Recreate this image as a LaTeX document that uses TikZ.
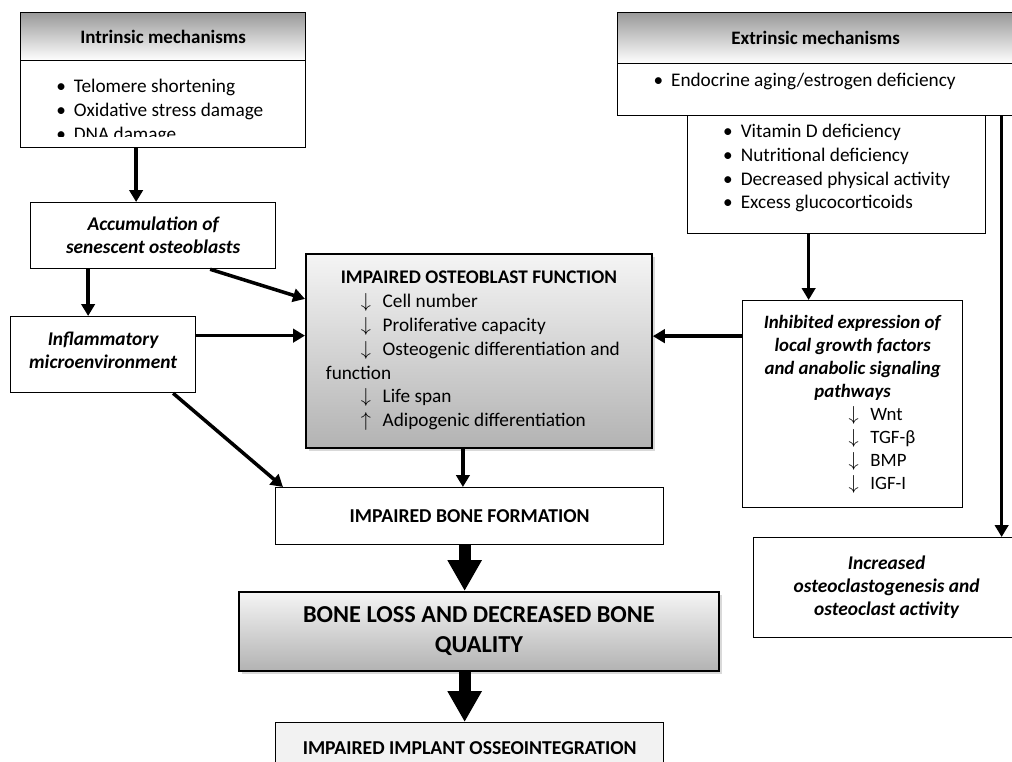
\documentclass[tikz,border=0pt]{standalone}
\usepackage{fontspec}
\setmainfont{Carlito}
\usetikzlibrary{arrows.meta,positioning,shadows}
\newcommand{\pix}{0.025cm}
\newcommand{\blt}{\makebox[12.5pt][l]{\textbullet}}
\newcommand{\dn}{\makebox[15.5pt][l]{$\downarrow$}}
\newcommand{\upp}{\makebox[15.5pt][l]{$\uparrow$}}
\tikzset{
  cell/.style={draw,line width=0.9pt,inner sep=0pt,anchor=north west,fill=white},
  head/.style={cell,top color=black!40,bottom color=white,font=\fontsize{13.5}{16}\selectfont\bfseries},
  txt/.style={font=\fontsize{13.7}{16.9}\selectfont},
  emph/.style={font=\fontsize{13.8}{16.4}\selectfont\bfseries\itshape,align=center},
  caps/.style={font=\fontsize{14}{16}\selectfont\bfseries,align=center},
  shade/.style={cell,line width=1.3pt,top color=black!4,bottom color=black!30,
    drop shadow={shadow xshift=2.5pt,shadow yshift=-2.5pt,opacity=0.3}},
  arr/.style={line width=2.5pt,-{Triangle[length=8.5pt,width=9.5pt]}},
  fat/.style={line width=8.5pt,-{Triangle[length=22pt,width=23pt]}},
}

\begin{document}
\begin{tikzpicture}[x=\pix,y=-\pix]
  \useasboundingbox (0,0) rectangle (1012,762);
  \clip (0,0) rectangle (1012,762);
  % intrinsic side
  \node[head,minimum width=285*\pix,minimum height=48*\pix] (intr) at (20,12) {Intrinsic mechanisms};
  \node[cell,minimum width=285*\pix,minimum height=87*\pix] (intb) at (20,60) {};
  \begin{scope}
    \clip (20,60) rectangle (305,136);
    \node[txt,anchor=north west,align=left,inner sep=0pt] (intl) at (56,79)
      {\blt Telomere shortening\\ \blt Oxidative stress damage\\ \blt DNA damage};
  \end{scope}
  \node[cell,emph,minimum width=245*\pix,minimum height=66*\pix] (acc) at (30,202)
    {Accumulation of\\ senescent osteoblasts};
  \node[cell,emph,text depth=6.5pt,minimum width=185*\pix,minimum height=76*\pix] (infl) at (10,316)
    {Inflammatory\\ microenvironment};
  % extrinsic side
  \node[head,minimum width=396*\pix,minimum height=51*\pix] (extr) at (617,12) {Extrinsic mechanisms};
  \node[cell,txt,text depth=14pt,minimum width=396*\pix,minimum height=52*\pix] (extb) at (617,63)
    {\blt Endocrine aging/estrogen deficiency\hspace*{0.55cm}};
  \node[cell,txt,align=left,text depth=11.5pt,minimum width=298*\pix,minimum height=118*\pix] (vitd) at (687,115)
    {\blt Vitamin D deficiency\\ \blt Nutritional deficiency\\ \blt Decreased physical activity\\ \blt Excess glucocorticoids};
  \node[cell,minimum width=220*\pix,minimum height=207*\pix,align=left,
    font=\fontsize{13.4}{16.3}\selectfont] (inh) at (742,300)
    {\makebox[5cm]{\textbf{\textit{Inhibited expression of}}}\\
     \makebox[5cm]{\textbf{\textit{local growth factors}}}\\
     \makebox[5cm]{\textbf{\textit{and anabolic signaling}}}\\
     \makebox[5cm]{\textbf{\textit{pathways}}}\\
     \hspace*{2.4cm}\dn Wnt\\ \hspace*{2.4cm}\dn TGF-β\\
     \hspace*{2.4cm}\dn BMP\\ \hspace*{2.4cm}\dn IGF-I};
  \node[cell,emph,minimum width=266*\pix,minimum height=100*\pix] (incr) at (753,537)
    {Increased\\ osteoclastogenesis and\\ osteoclast activity};
  % centre column
  \node[shade,txt,minimum width=346*\pix,minimum height=194*\pix,align=left] (iof) at (305,253)
    {\makebox[7.65cm]{\textbf{IMPAIRED OSTEOBLAST FUNCTION}}\\
     \hspace*{0.875cm}\dn Cell number\\
     \hspace*{0.875cm}\dn Proliferative capacity\\
     \hspace*{0.875cm}\dn Osteogenic differentiation and\\
     function\\
     \hspace*{0.875cm}\dn Life span\\
     \hspace*{0.875cm}\upp Adipogenic differentiation};
  \node[cell,caps,minimum width=388*\pix,minimum height=57*\pix] (ibf) at (275,487) {IMPAIRED BONE FORMATION};
  \node[shade,caps,font=\fontsize{17.3}{21.5}\selectfont\bfseries,minimum width=480*\pix,minimum height=79*\pix] (bone) at (238,591)
    {BONE LOSS AND DECREASED BONE\\ QUALITY};
  \node[cell,caps,fill=black!5,minimum width=388*\pix,minimum height=50*\pix] (iio) at (275,722) {IMPAIRED IMPLANT OSSEOINTEGRATION};
  % connectors
  \draw[arr] ([xshift=-27*\pix]intb.south) coordinate (a1) -- (a1 |- acc.north);
  \draw[arr] ([xshift=-65*\pix]acc.south) coordinate (a2) -- (a2 |- infl.north);
  \draw[arr] ([xshift=57*\pix]acc.south) -- ([yshift=52*\pix]iof.west);
  \draw[arr] ([yshift=19*\pix]infl.east) coordinate (a4) -- (a4 -| iof.west);
  \draw[arr] ([xshift=70*\pix]infl.south) -- ([xshift=8*\pix]ibf.north west);
  \draw[arr] ([xshift=-16*\pix]iof.south) coordinate (a6) -- (a6 |- ibf.north);
  \draw[arr] ([xshift=-28*\pix]vitd.south) coordinate (a7) -- (a7 |- inh.north);
  \draw[arr] ([yshift=68*\pix]inh.west) coordinate (a8) -- (a8 -| iof.east);
  \draw[arr] ([xshift=186*\pix]extb.south) coordinate (a9) -- (a9 |- incr.north);
  \draw[fat] ([xshift=-5*\pix]ibf.south) coordinate (a10) -- (a10 |- bone.north);
  \draw[fat] (a10 |- bone.south) -- (a10 |- iio.north);
\end{tikzpicture}
\end{document}
